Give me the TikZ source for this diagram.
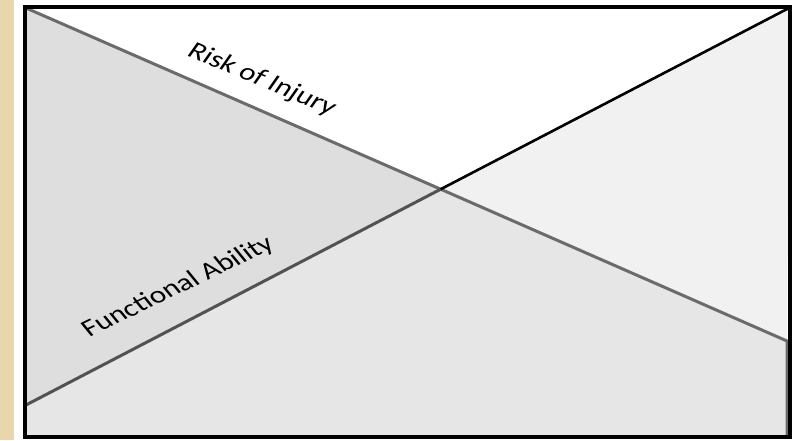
\documentclass[tikz,border=0pt]{standalone}
\usepackage{fontspec}
\setmainfont{Carlito}
\begin{document}
\begin{tikzpicture}[x=1pt,y=1pt,
  grayline/.style={draw=black!58,line width=3pt},
  darkline/.style={draw=black,line width=2.6pt},
  lbl/.style={font=\fontsize{24}{28}\selectfont,inner sep=0pt,transform shape}]
\useasboundingbox (0,0) rectangle (795,-440);
\fill[fill={rgb,255:red,233;green,214;blue,172}] (0,0) rectangle (795,-440);
\fill[white] (14,0) rectangle (795,-440);
% key points
\coordinate (TL) at (25,-6.5);
\coordinate (TR) at (790,-6.5);
\coordinate (BL) at (25,-437);
\coordinate (BR) at (790,-437);
\coordinate (A) at (26,-8);
\coordinate (R) at (787,-341);
\coordinate (F) at (26,-405);
\coordinate (B) at (789,-8);
\coordinate (RB) at (787,-436);
\coordinate (X) at (440.7,-189.2);
% regions
\fill[white] (A) -- (X) -- (B) -- cycle;
\fill[fill={rgb,255:red,222;green,222;blue,222}] (A) -- (X) -- (F) -- cycle;
\fill[fill={rgb,255:red,241;green,241;blue,241}] (X) -- (B) -- (R) -- cycle;
\fill[fill={rgb,255:red,230;green,230;blue,230}] (F) -- (X) -- (R) -- (RB) -- (BL) -- cycle;
% lines
\draw[grayline] (A) -- (X) -- (R) -- (RB);
\draw[grayline,draw=black!68] (F) -- (X);
\draw[darkline] (X) -- (B);
% frame
\draw[line width=4pt] (TL) rectangle (BR);
% labels
\begin{scope}[xscale=1.3]
\node[lbl,rotate=-28.3] (risk) at (201.5,-80) {Risk of Injury};
\node[lbl,rotate=32.1] (func) at (137,-287) {Functional Ability};
\end{scope}
\end{tikzpicture}
\end{document}
